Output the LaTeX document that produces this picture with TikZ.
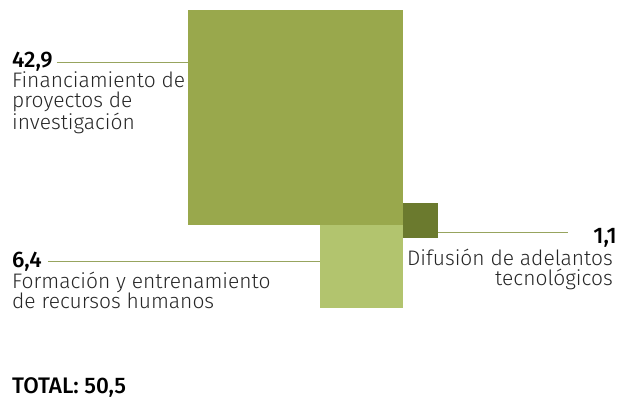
\documentclass[tikz,border=0pt]{standalone}
\usepackage{fontspec}
\setmainfont{Fira Sans}[UprightFont=* Light, BoldFont=* Medium]
\usetikzlibrary{positioning}
\definecolor{oliveMid}{HTML}{99A84C}
\definecolor{oliveDark}{HTML}{6B7A2E}
\definecolor{oliveLight}{HTML}{B2C46E}
\definecolor{oliveLine}{HTML}{97A45E}
\tikzset{
  value/.style={inner sep=0pt, font=\fontsize{22.5}{20}\selectfont\bfseries},
  caption/.style={inner sep=0pt, font=\fontsize{21}{20}\selectfont, text=black!85},
  leader/.style={oliveLine, line width=1pt}
}

\begin{document}
\begin{tikzpicture}[x=1pt, y=-1pt]
\useasboundingbox (0,0) rectangle (633,399);
% Squares
    \fill[oliveMid] (188,10) rectangle (403,225);
    \coordinate (bigW) at (188,62.5);
    \fill[oliveDark] (403,203) rectangle (438,238);
    \coordinate (darkE) at (438,232.5);
    \fill[oliveLight] (320,225) rectangle (403,308);
    \coordinate (lightW) at (320,261);
% Labels
    \node[value, anchor=base west] (v429) at (12,67) {42,9};
    \node[caption, anchor=north west, align=left] (t429) at (12,71.5)
        {Financiamiento de\\proyectos de\\investigación};
    \node[value, anchor=base west] (v64) at (12,267) {6,4};
    \node[caption, anchor=north west, align=left] (t64) at (12,271.5)
        {Formación y entrenamiento\\de recursos humanos};
    \node[value, anchor=base east] (v11) at (617,243) {1,1};
    \coordinate (v11end) at (568,232.5);
    \node[caption, anchor=north east, align=right] (t11) at (613,248.5)
        {Difusión de adelantos\\tecnológicos};
    \node[value, anchor=base west] (total) at (12,393) {TOTAL: 50,5};
% Leaders
    \draw[leader] ([xshift=4pt]v429.east |- bigW) -- (bigW);
    \draw[leader] ([xshift=6pt]v64.east |- lightW) -- (lightW);
    \draw[leader] (darkE) -- (v11end);
\end{tikzpicture}
\end{document}
